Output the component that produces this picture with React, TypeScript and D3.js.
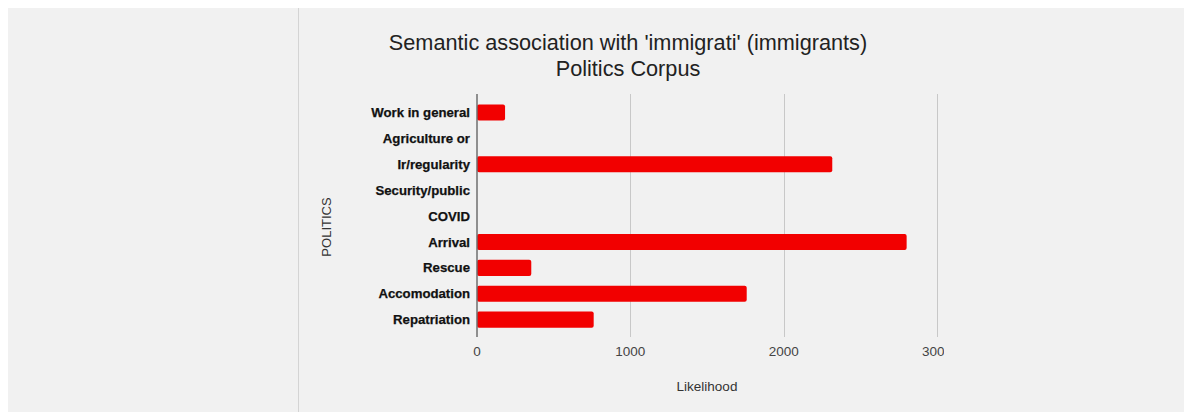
import { useEffect, useRef } from "react";
import * as d3 from "d3";

const categories = [
  "Work in general",
  "Agriculture or",
  "Ir/regularity",
  "Security/public",
  "COVID",
  "Arrival",
  "Rescue",
  "Accomodation",
  "Repatriation",
];
const likelihood = [183, 0, 2317, 0, 0, 2802, 354, 1759, 761];
const xTicks = [0, 1000, 2000, 3000];
const titleLines = ["Semantic association with 'immigrati' (immigrants)", "Politics Corpus"];

export default function App() {
  const ref = useRef<SVGSVGElement | null>(null);

  useEffect(() => {
    if (!ref.current) return;
    const width = 1187;
    const height = 412;
    const font = "'Liberation Sans', Arial, sans-serif";

    const svg = d3.select(ref.current);
    svg.selectAll("*").remove();
    svg.attr("width", width).attr("height", height).attr("viewBox", `0 0 ${width} ${height}`);

    // card background + divider
    svg.append("rect").attr("x", 8).attr("y", 8).attr("width", 1176).attr("height", 404).attr("fill", "#f1f1f1");
    svg.append("line").attr("x1", 298.5).attr("x2", 298.5).attr("y1", 8).attr("y2", height).attr("stroke", "#d4d4d4");

    const plot = { left: 477, right: 937, top: 94, bottom: 337 };

    const x = d3.scaleLinear().domain([0, 3000]).range([plot.left, plot.right]);
    const y = d3
      .scaleBand<string>()
      .domain(categories)
      .range([99.5, 332.6])
      .paddingInner(0.38)
      .paddingOuter(0.19);

    // grid
    svg
      .append("g")
      .selectAll("line")
      .data(xTicks.slice(1))
      .join("line")
      .attr("x1", (d) => Math.round(x(d)) + 0.5)
      .attr("x2", (d) => Math.round(x(d)) + 0.5)
      .attr("y1", plot.top)
      .attr("y2", plot.bottom)
      .attr("stroke", "#c8c8c8");

    // bars
    svg
      .append("g")
      .selectAll("rect")
      .data(likelihood.map((v, i) => ({ cat: categories[i], v })).filter((d) => d.v > 0))
      .join("rect")
      .attr("x", x(0))
      .attr("y", (d) => y(d.cat) as number)
      .attr("width", (d) => x(d.v) - x(0))
      .attr("height", y.bandwidth())
      .attr("rx", 2)
      .attr("fill", "#f20000");

    // y axis line
    svg
      .append("line")
      .attr("x1", plot.left)
      .attr("x2", plot.left)
      .attr("y1", plot.top)
      .attr("y2", plot.bottom)
      .attr("stroke", "#6e6e6e")
      .attr("stroke-width", 1.5);

    // category labels
    svg
      .append("g")
      .selectAll("text")
      .data(categories)
      .join("text")
      .attr("x", 470)
      .attr("y", (d) => (y(d) as number) + y.bandwidth() / 2)
      .attr("dy", "0.35em")
      .attr("text-anchor", "end")
      .attr("font-family", font)
      .attr("font-weight", "bold")
      .attr("font-size", 13.2)
      .attr("fill", "#111")
      .attr("stroke", "#111")
      .attr("stroke-width", 0.25)
      .text((d) => d);

    // x tick labels (last one is cut off in the original)
    svg
      .append("clipPath")
      .attr("id", "tickclip")
      .append("rect")
      .attr("x", 400)
      .attr("y", 330)
      .attr("width", 544)
      .attr("height", 40);

    svg
      .append("g")
      .attr("clip-path", "url(#tickclip)")
      .selectAll("text")
      .data(xTicks)
      .join("text")
      .attr("x", (d) => x(d))
      .attr("y", 356)
      .attr("text-anchor", "middle")
      .attr("font-family", font)
      .attr("font-size", 13.5)
      .attr("fill", "#444")
      .text((d) => String(d));

    // axis titles
    svg
      .append("text")
      .attr("x", (plot.left + plot.right) / 2)
      .attr("y", 391)
      .attr("text-anchor", "middle")
      .attr("font-family", font)
      .attr("font-size", 13.5)
      .attr("fill", "#333")
      .text("Likelihood");

    svg
      .append("text")
      .attr("transform", `translate(331,227) rotate(-90)`)
      .attr("text-anchor", "middle")
      .attr("font-family", font)
      .attr("font-size", 13)
      .attr("fill", "#333")
      .text("POLITICS");

    // title
    svg
      .append("g")
      .selectAll("text")
      .data(titleLines)
      .join("text")
      .attr("x", 628)
      .attr("y", (_, i) => 50 + i * 26)
      .attr("text-anchor", "middle")
      .attr("font-family", font)
      .attr("font-size", 21.7)
      .attr("fill", "#222")
      .text((d) => d);
  }, []);

  return (
    <svg
      ref={ref}
      role="img"
      aria-label="Semantic association chart"
      style={{ position: "absolute", left: 0, top: 0, display: "block" }}
    />
  );
}
